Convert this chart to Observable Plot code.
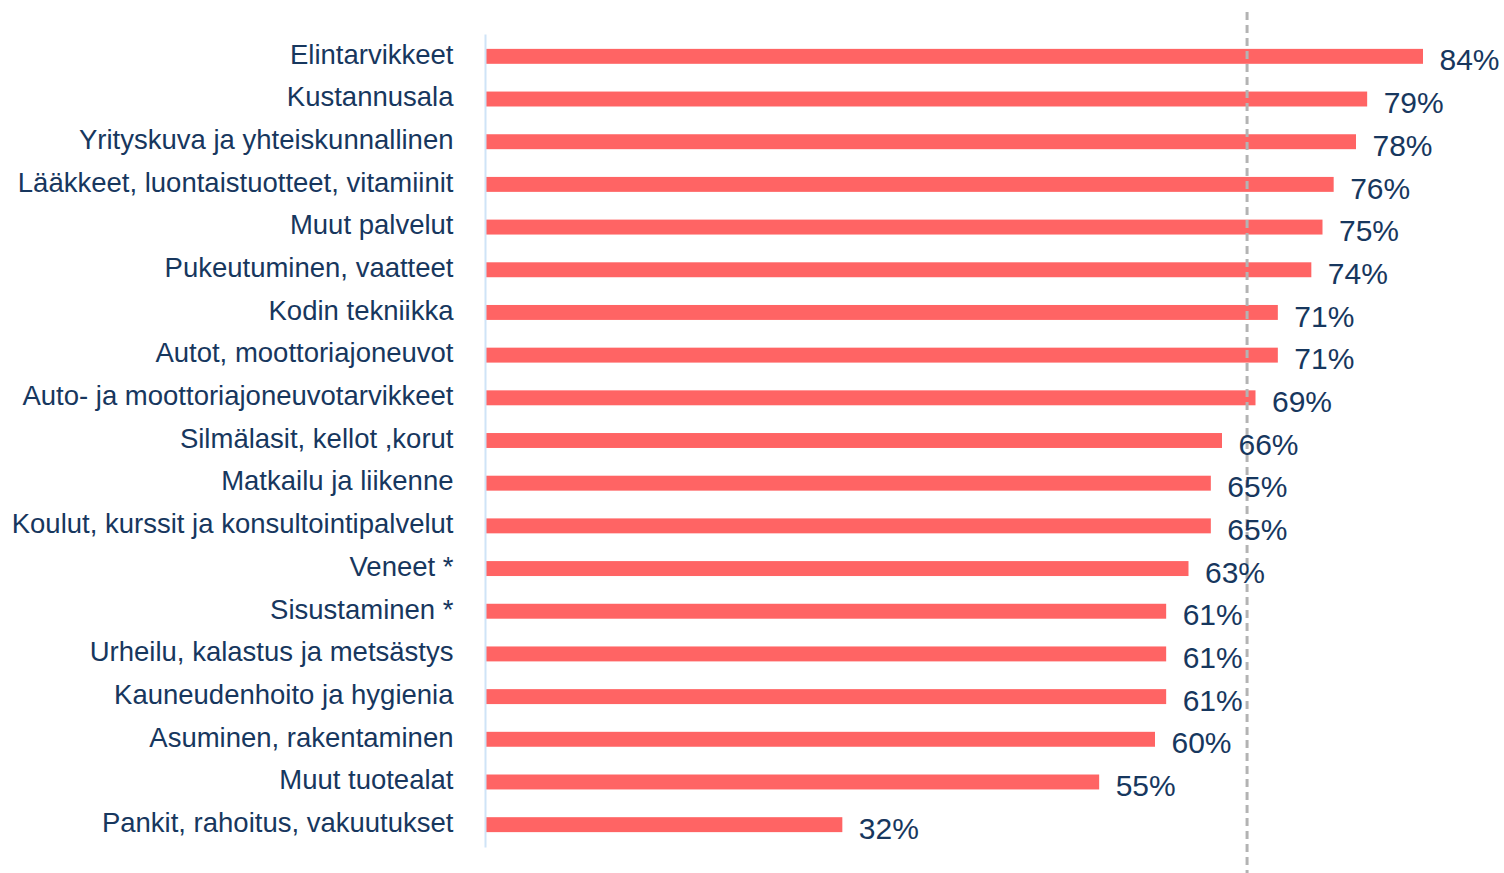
<!DOCTYPE html>
<html>
<head>
<meta charset="utf-8">
<script src="https://cdn.jsdelivr.net/npm/d3@7"></script>
<script src="https://cdn.jsdelivr.net/npm/@observablehq/plot@0.6"></script>
<style>
  html, body { margin: 0; padding: 0; background: #fff; }
  #chart { width: 1504px; height: 873px; }
</style>
</head>
<body>
<div id="chart"></div>
<script>
const categories = [
  "Elintarvikkeet",
  "Kustannusala",
  "Yrityskuva ja yhteiskunnallinen",
  "Lääkkeet, luontaistuotteet, vitamiinit",
  "Muut palvelut",
  "Pukeutuminen, vaatteet",
  "Kodin tekniikka",
  "Autot, moottoriajoneuvot",
  "Auto- ja moottoriajoneuvotarvikkeet",
  "Silmälasit, kellot ,korut",
  "Matkailu ja liikenne",
  "Koulut, kurssit ja konsultointipalvelut",
  "Veneet *",
  "Sisustaminen *",
  "Urheilu, kalastus ja metsästys",
  "Kauneudenhoito ja hygienia",
  "Asuminen, rakentaminen",
  "Muut tuotealat",
  "Pankit, rahoitus, vakuutukset"
];
const values = [84, 79, 78, 76, 75, 74, 71, 71, 69, 66, 65, 65, 63, 61, 61, 61, 60, 55, 32];
const referenceValue = [68.2];

const data = categories.map((c, i) => ({category: c, value: values[i]}));
const textColor = "#17375e";

const chart = Plot.plot({
  width: 1504,
  height: 873,
  marginLeft: 485,
  marginRight: 81,
  marginTop: 35,
  marginBottom: 27,
  style: {fontFamily: "'Liberation Sans', Arial, sans-serif", background: "#fff", overflow: "visible"},
  x: {domain: [0, 84], axis: null},
  y: {domain: categories, round: false, paddingInner: 0.65, paddingOuter: 0.325, label: null},
  marks: [
    Plot.axisY({tickSize: 0, tickPadding: 32, fontSize: 27.5, dy: -2, color: textColor, label: null}),
    Plot.barX(data, {x: "value", y: "category", fill: "#ff6464"}),
    Plot.frame({anchor: "left", stroke: "#cfe4f7", strokeWidth: 2}),
    Plot.ruleX(referenceValue, {stroke: "#b3b3b3", strokeWidth: 3, strokeDasharray: "8,5", insetTop: -23, insetBottom: -27}),
    Plot.text(data, {x: "value", y: "category", text: d => d.value + "%", textAnchor: "start", dx: 16, dy: 4, fontSize: 30, fill: textColor})
  ]
});
document.getElementById("chart").appendChild(chart);
</script>
</body>
</html>
